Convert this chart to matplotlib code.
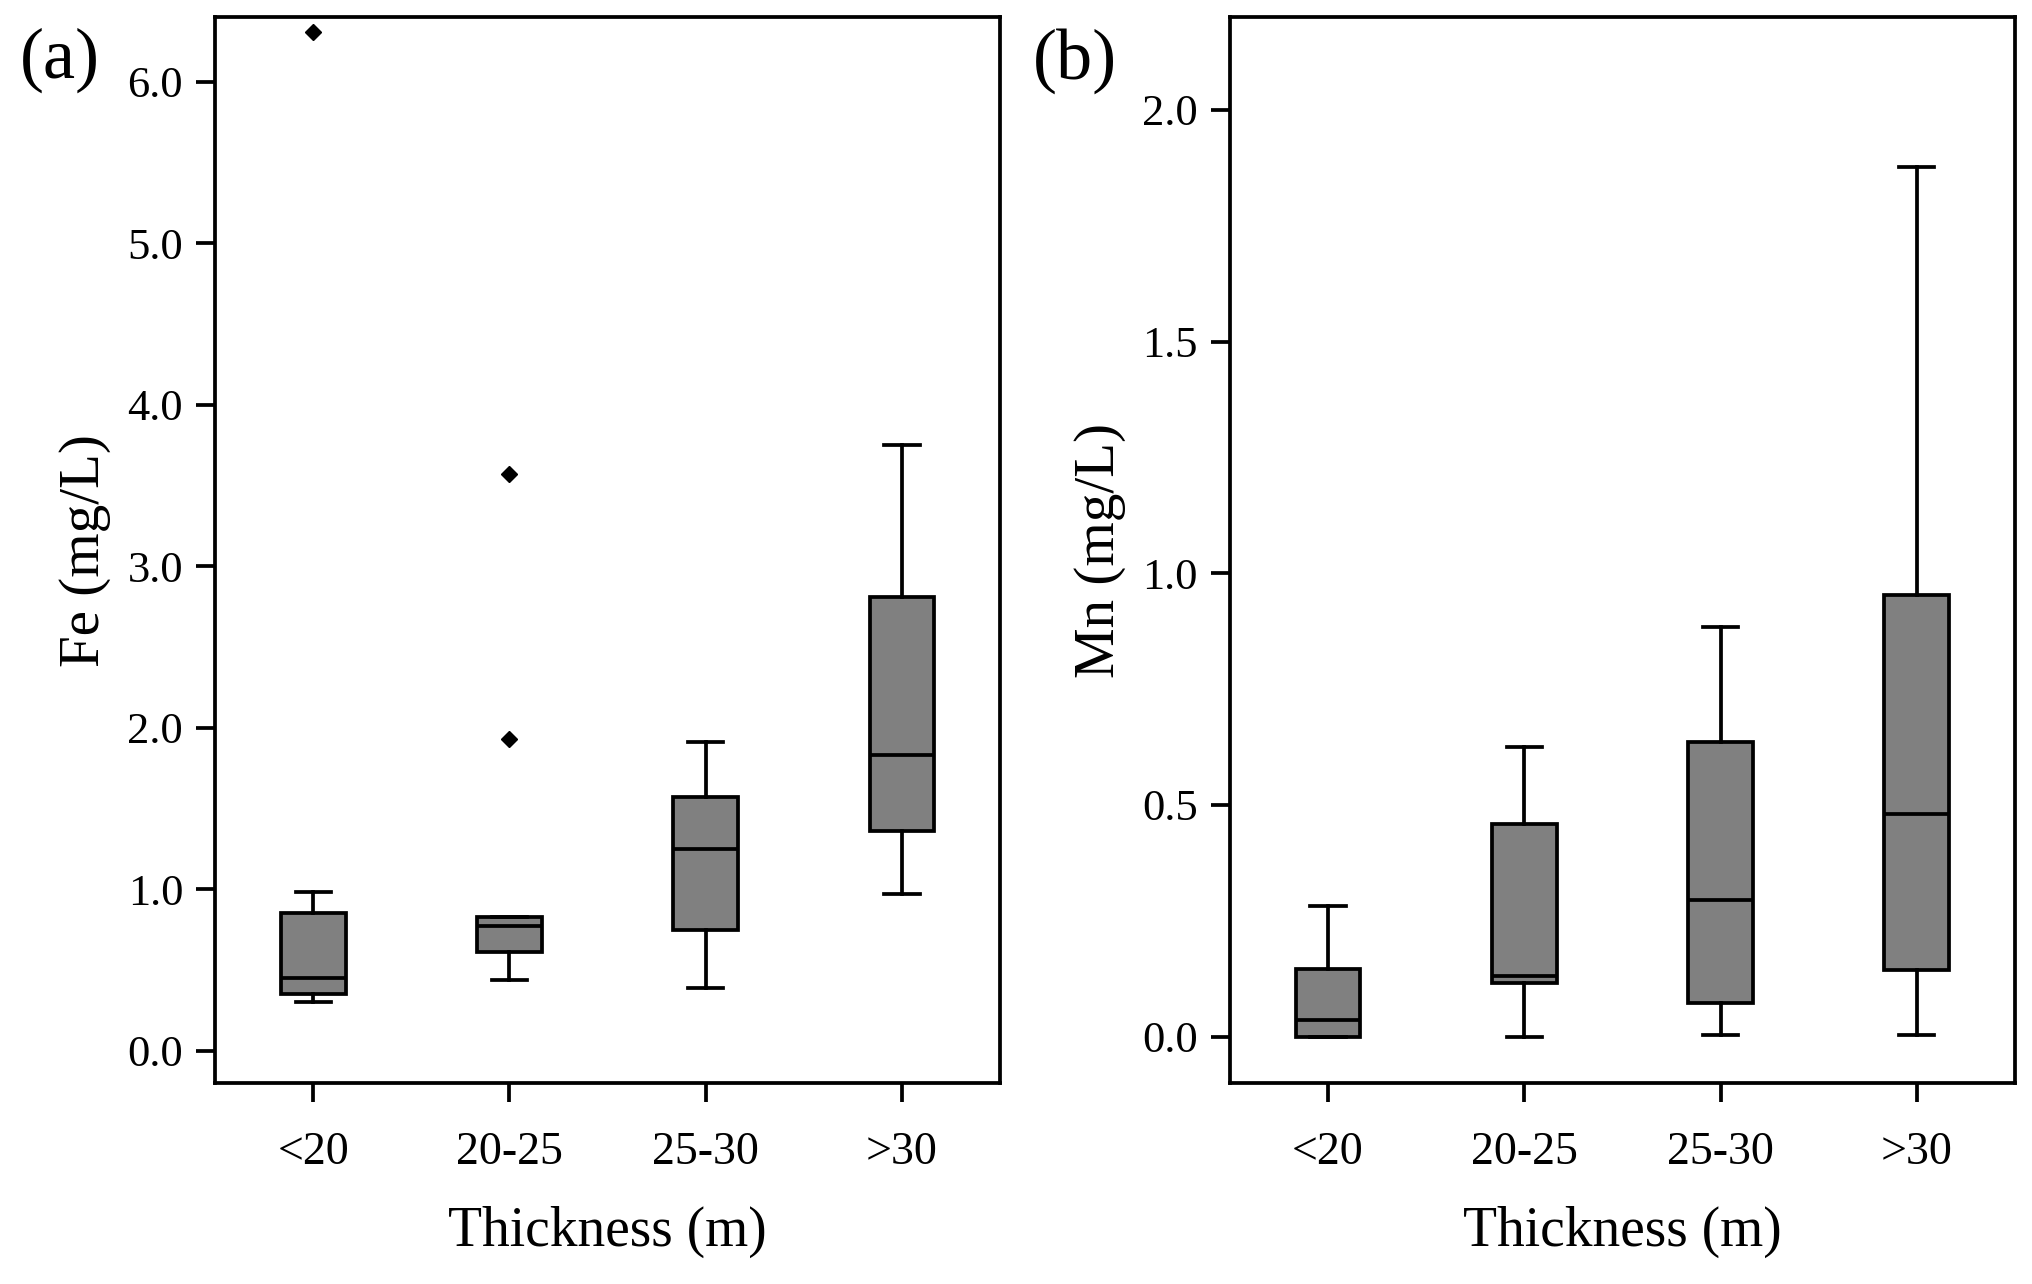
import matplotlib
matplotlib.use("Agg")
import matplotlib.pyplot as plt
from matplotlib.ticker import FormatStrFormatter

plt.rcParams['font.family'] = ['Liberation Serif', 'DejaVu Serif']

groups = ["<20", "20-25", "25-30", ">30"]

# Fe (mg/L) box statistics
fe_low = [0.30, 0.44, 0.39, 0.97]
fe_q1 = [0.35, 0.61, 0.75, 1.36]
fe_med = [0.45, 0.77, 1.25, 1.83]
fe_q3 = [0.85, 0.83, 1.57, 2.81]
fe_high = [0.98, 0.83, 1.91, 3.75]
fe_out = [[6.31], [3.57, 1.93], [], []]

# Mn (mg/L) box statistics
mn_low = [0.0, 0.0, 0.004, 0.004]
mn_q1 = [0.0, 0.115, 0.073, 0.145]
mn_med = [0.035, 0.13, 0.296, 0.481]
mn_q3 = [0.147, 0.458, 0.635, 0.952]
mn_high = [0.283, 0.625, 0.885, 1.876]
mn_out = [[], [], [], []]


def make_stats(low, q1, med, q3, high, out):
    stats = []
    for i in range(len(groups)):
        stats.append(dict(label=groups[i], whislo=low[i], q1=q1[i], med=med[i],
                          q3=q3[i], whishi=high[i], fliers=out[i]))
    return stats


def draw_panel(ax, stats, ylim, yticks, ylabel, tag, tag_x):
    lw = 2.7
    ax.bxp(stats, positions=[1, 2, 3, 4], widths=0.33, capwidths=0.18,
           patch_artist=True,
           boxprops=dict(facecolor="#808080", edgecolor="black", linewidth=lw),
           whiskerprops=dict(color="black", linewidth=lw),
           capprops=dict(color="black", linewidth=lw),
           medianprops=dict(color="black", linewidth=lw),
           flierprops=dict(marker="D", markerfacecolor="black",
                           markeredgecolor="black", markersize=8))
    ax.set_xlim(0.5, 4.5)
    ax.set_ylim(*ylim)
    ax.set_yticks(yticks)
    ax.yaxis.set_major_formatter(FormatStrFormatter("%.1f"))
    ax.set_xticks([1, 2, 3, 4])
    ax.set_xticklabels(groups)
    for s in ax.spines.values():
        s.set_linewidth(lw)
    ax.tick_params(axis="both", direction="out", length=14, width=lw,
                   top=False, right=False, labelsize=32)
    ax.tick_params(axis="x", labelsize=33, pad=21)
    ax.tick_params(axis="y", pad=9)
    ax.set_xlabel("Thickness (m)", fontsize=40)
    ax.xaxis.set_label_coords(0.5, -0.115)
    ax.set_ylabel(ylabel, fontsize=41)
    ax.yaxis.set_label_coords(-0.132, 0.5)
    fig.text(tag_x, 1 - 28 / 1284, tag, fontsize=52, ha="left", va="top")


fig = plt.figure(figsize=(20.33, 12.84), dpi=100)
ax1 = fig.add_axes([0.1058, 0.1565, 0.3861, 0.8302])
ax2 = fig.add_axes([0.6050, 0.1565, 0.3861, 0.8302])

draw_panel(ax1, make_stats(fe_low, fe_q1, fe_med, fe_q3, fe_high, fe_out),
           (-0.2, 6.4), [0, 1, 2, 3, 4, 5, 6], "Fe (mg/L)", "(a)", 20 / 2033)
draw_panel(ax2, make_stats(mn_low, mn_q1, mn_med, mn_q3, mn_high, mn_out),
           (-0.1, 2.2), [0, 0.5, 1.0, 1.5, 2.0], "Mn (mg/L)", "(b)", 1033 / 2033)

fig.savefig("out.png", dpi=100)
